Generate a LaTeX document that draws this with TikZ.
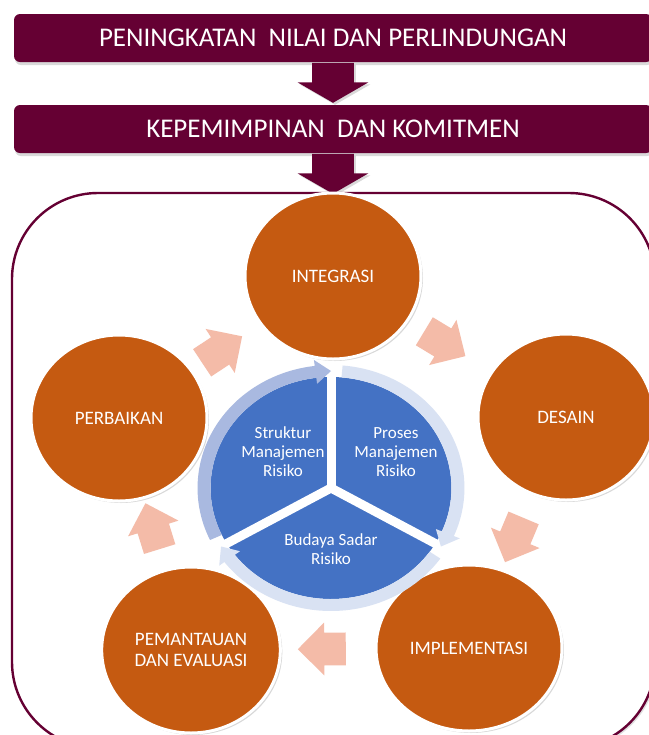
\documentclass[tikz,border=0pt]{standalone}
\usepackage{fontspec}
\setmainfont{Carlito}
\usetikzlibrary{shapes.geometric,shapes.arrows,shadows}
\definecolor{barmaroon}{HTML}{650033}
\definecolor{stageorange}{HTML}{C55A11}
\definecolor{pieblue}{HTML}{4472C4}
\definecolor{ringdark}{HTML}{A9B9E0}
\definecolor{ringlight}{HTML}{D9E2F3}
\definecolor{flowpink}{HTML}{F4BBA8}

\newcommand{\ringseg}[3]{%
  \pgfmathsetmacro{\headbase}{#2+7}%
  \fill[#3] (#1:123) arc[start angle=#1,end angle=\headbase,radius=123]
    -- (\headbase:129) -- (#2:117) -- (\headbase:105) -- (\headbase:111)
    arc[start angle=\headbase,end angle=#1,radius=111] -- cycle;}

\begin{document}
\begin{tikzpicture}[x=0.5pt,y=-0.5pt,
topbar/.style={fill=barmaroon,rounded corners=3pt,minimum width=319pt,minimum height=24pt,text=white,
  font=\fontsize{13.5}{15}\selectfont,drop shadow={shadow xshift=0.5pt,shadow yshift=-1.5pt,opacity=0.3}},
downarrow/.style={single arrow,fill=barmaroon,rotate=-90,anchor=tail,minimum height=20pt,minimum width=35pt,
  inner xsep=1pt,inner ysep=10.25pt,single arrow head extend=7.25pt,single arrow tip angle=120,
  drop shadow={shadow xshift=1pt,shadow yshift=-1pt,opacity=0.3}},
frame/.style={draw=barmaroon,fill=white,line width=1.2pt,rounded corners=43pt,minimum width=321.5pt,minimum height=277.5pt,
  drop shadow={shadow xshift=1pt,shadow yshift=-1pt,opacity=0.25}},
stage/.style={ellipse,fill=stageorange,draw=white,line width=1.5pt,minimum width=88pt,minimum height=83pt,
  text=white,align=center,font=\fontsize{9.5}{10.5}\selectfont,
  drop shadow={shadow xshift=1pt,shadow yshift=-1pt,opacity=0.3}},
flow/.style={single arrow,fill=flowpink,minimum height=24pt,minimum width=26pt,inner xsep=2pt,inner ysep=8pt,
  single arrow head extend=5pt,sloped,allow upside down},
pielabel/.style={text=white,align=center,font=\fontsize{8.5}{9.5}\selectfont}]

\useasboundingbox (0,0) rectangle (649,735);
\clip (0,0) rectangle (649,735);

\draw (333,38) node[topbar] (nilai) {PENINGKATAN~ NILAI DAN PERLINDUNGAN};
\draw (333,129) node[topbar] (komitmen) {KEPEMIMPINAN~ DAN KOMITMEN};
\draw (333.5,470.5) node[frame] (kerangka) {};

\draw (nilai.south) node[downarrow] (turun1) {};
\draw (komitmen.south) node[downarrow] (turun2) {};

\draw (333,276) node[stage] (integrasi) {INTEGRASI};
\draw (566,417) node[stage] (desain) {DESAIN};
\draw (469,648) node[stage] (implementasi) {IMPLEMENTASI};
\draw (191,650) node[stage] (pemantauan) {PEMANTAUAN\\DAN EVALUASI};
\draw (119,418) node[stage] (perbaikan) {PERBAIKAN};

\path (perbaikan.center) -- node[flow,pos=0.45] (f1) {} (integrasi.center);
\path (integrasi.center) -- node[flow,pos=0.45] (f2) {} (desain.center);
\path (desain.center) -- node[flow] (f3) {} (implementasi.center);
\path (implementasi.center) -- node[flow] (f4) {} (pemantauan.center);
\path (pemantauan.center) -- node[flow] (f5) {} (perbaikan.center);

\begin{scope}[shift={(331,488)},x=0.5425pt,y=0.5pt]
\fill[pieblue] (0,0) circle[radius=111];
\foreach \a in {90,-30,210}
  \draw[white,line width=4.5pt] (0,0) -- (\a:112);
\ringseg{205}{90}{ringdark}
\ringseg{85}{-30}{ringlight}
\ringseg{-35}{-150}{ringlight}
\end{scope}

\draw (283,452) node[pielabel] (struktur) {Struktur\\Manajemen\\Risiko};
\draw (396,452) node[pielabel] (proses) {Proses\\Manajemen\\Risiko};
\draw (331,549) node[pielabel] (budaya) {Budaya Sadar\\Risiko};

\end{tikzpicture}
\end{document}
